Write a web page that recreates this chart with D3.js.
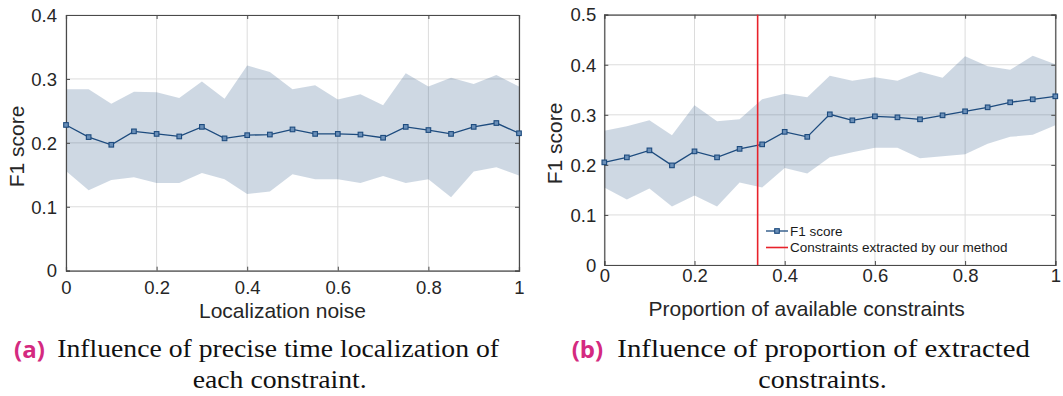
<!DOCTYPE html>
<html lang="en">
<head>
<meta charset="utf-8">
<title>F1 score figures</title>
<script src="https://cdn.jsdelivr.net/npm/d3@7"></script>
<style>
  body { margin: 0; background: #fff; }
  svg { display: block; }
  .axlabel { font-family: "Liberation Sans", Arial, sans-serif; font-size: 21px; fill: #262626; }
  .legend { font-family: "Liberation Sans", Arial, sans-serif; font-size: 13.5px; fill: #1a1a1a; }
  .cap { font-family: "Liberation Serif", "Times New Roman", serif; font-size: 26px; fill: #111; }
  .capnum { font-family: "Open Sans", sans-serif; font-weight: 700; font-size: 24px; fill: #d42a80; }
</style>
</head>
<body>
<div id="chart"></div>
<script>
// x positions shared by both panels
var xs = [0, 0.05, 0.1, 0.15, 0.2, 0.25, 0.3, 0.35, 0.4, 0.45, 0.5, 0.55, 0.6, 0.65, 0.7, 0.75, 0.8, 0.85, 0.9, 0.95, 1];

// (a) localization noise
var noiseMean  = [0.228, 0.209, 0.197, 0.218, 0.214, 0.210, 0.225, 0.207, 0.212, 0.213, 0.221, 0.214, 0.214, 0.213, 0.208, 0.225, 0.220, 0.214, 0.225, 0.231, 0.215];
var noiseUpper = [0.284, 0.284, 0.261, 0.280, 0.279, 0.270, 0.296, 0.269, 0.321, 0.311, 0.284, 0.290, 0.268, 0.276, 0.259, 0.309, 0.288, 0.302, 0.292, 0.306, 0.288];
var noiseLower = [0.156, 0.126, 0.142, 0.146, 0.137, 0.137, 0.153, 0.143, 0.120, 0.124, 0.151, 0.143, 0.143, 0.137, 0.148, 0.137, 0.143, 0.115, 0.155, 0.162, 0.149];

// (b) proportion of available constraints
var propMean  = [0.205, 0.215, 0.229, 0.199, 0.227, 0.215, 0.232, 0.241, 0.266, 0.256, 0.301, 0.289, 0.297, 0.295, 0.291, 0.299, 0.307, 0.315, 0.325, 0.331, 0.337];
var propUpper = [0.268, 0.277, 0.289, 0.259, 0.319, 0.287, 0.291, 0.331, 0.342, 0.335, 0.378, 0.368, 0.375, 0.368, 0.386, 0.374, 0.417, 0.397, 0.390, 0.418, 0.401];
var propLower = [0.155, 0.131, 0.153, 0.117, 0.139, 0.117, 0.165, 0.155, 0.194, 0.183, 0.215, 0.225, 0.234, 0.234, 0.213, 0.217, 0.221, 0.242, 0.256, 0.260, 0.279];
var extractedAt = 0.34;

var xTicks = [0, 0.2, 0.4, 0.6, 0.8, 1];
var xTickLabels = ["0", "0.2", "0.4", "0.6", "0.8", "1"];
var yTicksA = [0, 0.1, 0.2, 0.3, 0.4];
var yTicksB = [0, 0.1, 0.2, 0.3, 0.4, 0.5];
var legendLabels = ["F1 score", "Constraints extracted by our method"];

var w = 1063, h = 396;
var lineColor = "#1d4b7e";

var svg = d3.select("#chart").append("svg")
  .attr("width", w)
  .attr("height", h);

function panel(opt) {
  var x = d3.scaleLinear().domain([0, 1]).range([opt.left, opt.right]);
  var y = d3.scaleLinear().domain(opt.yDomain).range([opt.bottom, opt.top]);
  var g = svg.append("g");

  // grid
  g.selectAll("line.gx").data(xTicks).enter().append("line")
    .attr("x1", d => x(d)).attr("x2", d => x(d))
    .attr("y1", opt.top).attr("y2", opt.bottom)
    .attr("stroke", "#dcdcdc").attr("stroke-width", 1);
  g.selectAll("line.gy").data(opt.yTicks).enter().append("line")
    .attr("x1", opt.left).attr("x2", opt.right)
    .attr("y1", d => y(d)).attr("y2", d => y(d))
    .attr("stroke", "#dcdcdc").attr("stroke-width", 1);

  // band
  var area = d3.area()
    .x((d, i) => x(xs[i]))
    .y0((d, i) => y(opt.lower[i]))
    .y1((d, i) => y(opt.upper[i]));
  g.append("path")
    .datum(opt.mean)
    .attr("d", area)
    .attr("fill", "#1f4f80")
    .attr("fill-opacity", 0.22);

  // axes (ticks pointing inward, box on)
  var xAxis = d3.axisBottom(x).tickValues(xTicks)
    .tickFormat((d, i) => xTickLabels[i]).tickSize(-4).tickPadding(opt.xPad);
  var yAxis = d3.axisLeft(y).tickValues(opt.yTicks)
    .tickFormat(d3.format("")).tickSize(-4).tickPadding(opt.yPad);
  var gx = g.append("g").attr("transform", "translate(0," + opt.bottom + ")").call(xAxis);
  var gy = g.append("g").attr("transform", "translate(" + opt.left + ",0)").call(yAxis);
  var gxt = g.append("g").attr("transform", "translate(0," + opt.top + ")")
    .call(d3.axisTop(x).tickValues(xTicks).tickFormat("").tickSize(-4));
  var gyr = g.append("g").attr("transform", "translate(" + opt.right + ",0)")
    .call(d3.axisRight(y).tickValues(opt.yTicks).tickFormat("").tickSize(-4));
  [gx, gy, gxt, gyr].forEach(function(a) {
    a.attr("font-family", "Liberation Sans, Arial, sans-serif").attr("font-size", 18.5);
    a.select(".domain").attr("stroke", "#4a4a4a").attr("stroke-width", 1.2);
    a.selectAll(".tick line").attr("stroke", "#4a4a4a");
    a.selectAll(".tick text")
      .attr("fill", "#262626")
      .style("font-family", "'Liberation Sans', Arial, sans-serif")
      .style("font-size", "18.5px");
  });
  gy.selectAll(".tick text").attr("dy", "0.34em");

  // mean line
  var line = d3.line().x((d, i) => x(xs[i])).y(d => y(d));
  g.append("path")
    .datum(opt.mean)
    .attr("d", line)
    .attr("fill", "none")
    .attr("stroke", lineColor)
    .attr("stroke-width", 1.3);
  g.selectAll("rect.mk").data(opt.mean).enter().append("rect")
    .attr("x", (d, i) => x(xs[i]) - 2.3)
    .attr("y", d => y(d) - 2.3)
    .attr("width", 4.6).attr("height", 4.6)
    .attr("fill", "#6a8fb8")
    .attr("stroke", lineColor)
    .attr("stroke-width", 1.1);

  // labels
  g.append("text").attr("class", "axlabel")
    .attr("x", opt.xLabelX).attr("y", opt.xLabelY)
    .attr("text-anchor", "middle")
    .text(opt.xLabel);
  g.append("text").attr("class", "axlabel")
    .attr("transform", "translate(" + opt.yLabelX + "," + opt.yLabelY + ") rotate(-90)")
    .attr("text-anchor", "middle")
    .text("F1 score");

  return { g: g, x: x, y: y };
}

panel({
  left: 66, right: 519, top: 15, bottom: 270.7,
  yDomain: [0, 0.4], yTicks: yTicksA,
  mean: noiseMean, upper: noiseUpper, lower: noiseLower,
  xPad: 10.5, yPad: 9,
  xLabel: "Localization noise", xLabelX: 282.5, xLabelY: 318,
  yLabelX: 24, yLabelY: 146.5
});

var pb = panel({
  left: 604.3, right: 1055.3, top: 14.7, bottom: 265,
  yDomain: [0, 0.5], yTicks: yTicksB,
  mean: propMean, upper: propUpper, lower: propLower,
  xPad: 4, yPad: 8,
  xLabel: "Proportion of available constraints", xLabelX: 806.7, xLabelY: 315.7,
  yLabelX: 561.5, yLabelY: 143.5
});

// red vertical line
pb.g.append("line")
  .attr("x1", pb.x(extractedAt)).attr("x2", pb.x(extractedAt))
  .attr("y1", pb.y(0.5)).attr("y2", pb.y(0))
  .attr("stroke", "#e8222b").attr("stroke-width", 1.6);

// legend
var lg = pb.g.append("g").attr("transform", "translate(766,0)");
lg.append("line").attr("x1", 0).attr("x2", 22).attr("y1", 231).attr("y2", 231)
  .attr("stroke", lineColor).attr("stroke-width", 1.3);
lg.append("rect").attr("x", 11 - 2.3).attr("y", 231 - 2.3).attr("width", 4.6).attr("height", 4.6)
  .attr("fill", "#6a8fb8").attr("stroke", lineColor).attr("stroke-width", 1.1);
lg.append("line").attr("x1", 0).attr("x2", 22).attr("y1", 247.5).attr("y2", 247.5)
  .attr("stroke", "#e8222b").attr("stroke-width", 1.6);
lg.selectAll("text").data(legendLabels).enter().append("text")
  .attr("class", "legend")
  .attr("x", 24)
  .attr("y", (d, i) => i === 0 ? 236 : 252.3)
  .text(d => d);

// captions
var caps = [
  { num: "(a)", nx: 14, lines: ["Influence of precise time localization of", "each constraint."],
    x1: 57.3, len1: 441.7, cx2: 279.7, len2: 174 },
  { num: "(b)", nx: 571.7, lines: ["Influence of proportion of extracted", "constraints."],
    x1: 617.3, len1: 412.7, cx2: 822.5, len2: 128.4 }
];
caps.forEach(function(c) {
  svg.append("text").attr("class", "capnum").attr("x", c.nx).attr("y", 358).text(c.num);
  svg.append("text").attr("class", "cap").attr("x", c.x1).attr("y", 357.3)
    .attr("textLength", c.len1).attr("lengthAdjust", "spacingAndGlyphs").text(c.lines[0]);
  svg.append("text").attr("class", "cap").attr("x", c.cx2 - c.len2 / 2).attr("y", 388.3)
    .attr("textLength", c.len2).attr("lengthAdjust", "spacingAndGlyphs").text(c.lines[1]);
});
</script>
</body>
</html>
